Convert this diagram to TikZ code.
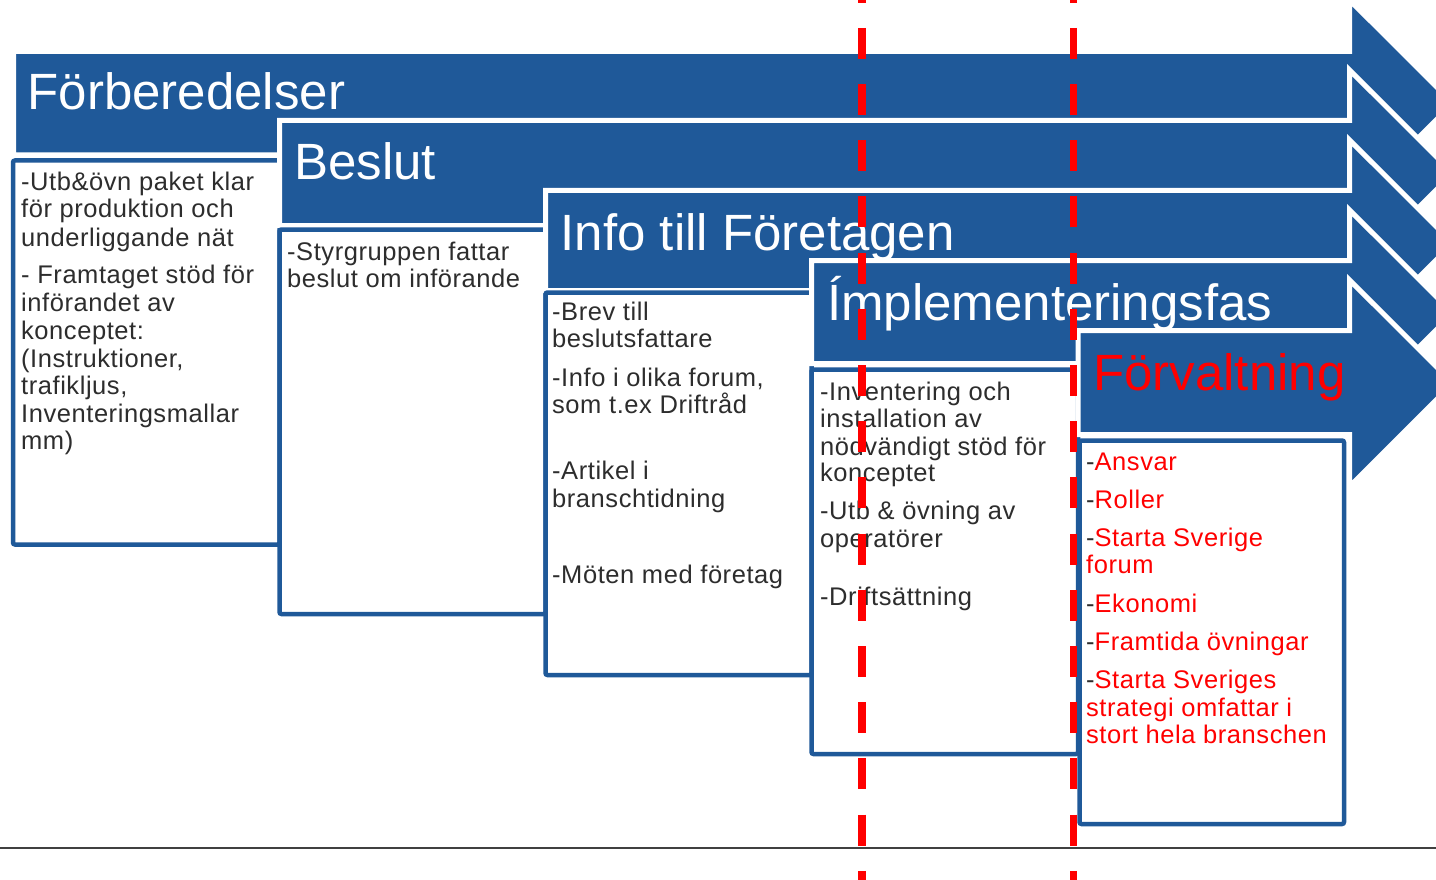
\documentclass[tikz,border=0pt]{standalone}
\usepackage{fontspec}
\setmainfont{Liberation Sans}
\newfontfamily\bodyfont[LetterSpace=2.2]{Liberation Sans}
\definecolor{bandblue}{RGB}{31,89,153}
\definecolor{txtgray}{RGB}{45,45,45}
\definecolor{redline}{RGB}{255,0,0}
\definecolor{rulegray}{RGB}{64,64,64}
\tikzset{
  band/.style={fill=bandblue, draw=white, line width=5pt, line join=miter},
  txtbox/.style={fill=white, draw=bandblue, line width=4.5pt, rounded corners=2pt},
  ttl/.style={anchor=base west, inner sep=0pt, text=white, font=\fontsize{51}{60}\selectfont},
  body/.style={anchor=base west, inner sep=0pt, text=txtgray, font=\bodyfont\fontsize{25.5}{28}\selectfont},
  redbody/.style={body, text=red},
  milestone/.style={draw=redline, line width=7.5pt, dash pattern=on 31pt off 25.2pt, dash phase=28.4pt},
}
\newcommand\hy{{\color{txtgray}-}}
\begin{document}
\begin{tikzpicture}[x=1pt,y=-1pt]
\useasboundingbox (0,0) rectangle (1436,880);
\clip (0,0) rectangle (1436,880);
\fill[white] (0,0) rectangle (1436,880);

% arrow 1 + box 1
\draw[band] (13.5,51.5) -- (1349.5,51.5) -- (1349.5,0) -- (1452.9,103.3) -- (1349.5,206.6) -- (1349.5,155) -- (13.5,155) -- cycle;
\draw[txtbox] (13,160.5) rectangle (279.5,544.5);
% arrow 2 + box 2
\draw[band] (279.5,120.5) -- (1349.5,120.5) -- (1349.5,70) -- (1452.9,173.3) -- (1349.5,276.6) -- (1349.5,225.5) -- (279.5,225.5) -- cycle;
\draw[txtbox] (279.5,229.5) rectangle (545.5,614);
% arrow 3 + box 3
\draw[band] (545.5,190.5) -- (1349.5,190.5) -- (1349.5,140) -- (1452.9,243.3) -- (1349.5,346.6) -- (1349.5,290.5) -- (545.5,290.5) -- cycle;
\draw[txtbox] (545.5,292.5) rectangle (811.5,675);
% arrow 4 + box 4
\draw[band] (811.5,260.5) -- (1349.5,260.5) -- (1349.5,210) -- (1452.9,313.3) -- (1349.5,416.6) -- (1349.5,363.5) -- (811.5,363.5) -- cycle;
\draw[txtbox] (811.5,369.5) rectangle (1078,754);
% arrow 5 + box 5
\draw[band] (1078,330.5) -- (1349.5,330.5) -- (1349.5,280) -- (1452.9,383.3) -- (1349.5,486.6) -- (1349.5,434.5) -- (1078,434.5) -- cycle;
\draw[txtbox] (1079.5,440.5) rectangle (1344,824);

% titles
\node[ttl] (t1) at (27.5,110) {Förberedelser};
\node[ttl] (t2) at (294,180) {Beslut};
\node[ttl] (t3) at (560.5,250) {Info till Företagen};
\node[ttl] (t4) at (827,320) {Ímplementeringsfas};
\node[ttl, text=red] (t5) at (1093,390) {Förvaltning};

% box 1 text
\node[body] (a1) at (21,190) {-Utb\&övn paket klar};
\node[body] (a2) at (21,218) {för produktion och};
\node[body] (a3) at (21,246) {underliggande nät};
\node[body] (a4) at (21,283) {- Framtaget stöd för};
\node[body] (a5) at (21,311) {införandet av};
\node[body] (a6) at (21,339) {konceptet:};
\node[body] (a7) at (21,367) {(Instruktioner,};
\node[body] (a8) at (21,394) {trafikljus,};
\node[body] (a9) at (21,422) {Inventeringsmallar};
\node[body] (a10) at (21,449) {mm)};

% box 2 text
\node[body] (b1) at (287,260) {-Styrgruppen fattar};
\node[body] (b2) at (287,287) {beslut om införande};

% box 3 text
\node[body] (c1) at (552,320) {-Brev till};
\node[body] (c2) at (552,347) {beslutsfattare};
\node[body] (c3) at (552,386) {-Info i olika forum,};
\node[body] (c4) at (552,413) {som t.ex Driftråd};
\node[body] (c5) at (552,479) {-Artikel i};
\node[body] (c6) at (552,507) {branschtidning};
\node[body] (c7) at (552,583) {-Möten med företag};

% box 4 text
\node[body] (d1) at (820,400) {-Inventering och};
\node[body] (d2) at (820,427) {installation av};
\node[body] (d3) at (820,455) {nödvändigt stöd för};
\node[body] (d4) at (820,481) {konceptet};
\node[body] (d5) at (820,519) {-Utb \& övning av};
\node[body] (d6) at (820,547) {operatörer};
\node[body] (d7) at (820,605) {-Driftsättning};

% box 5 text
\node[redbody] (e1) at (1086,470) {\hy Ansvar};
\node[redbody] (e2) at (1086,508) {\hy Roller};
\node[redbody] (e3) at (1086,546) {\hy Starta Sverige};
\node[redbody] (e4) at (1086,573) {forum};
\node[redbody] (e5) at (1086,612) {\hy Ekonomi};
\node[redbody] (e6) at (1086,650) {\hy Framtida övningar};
\node[redbody] (e7) at (1086,688) {\hy Starta Sveriges};
\node[redbody] (e8) at (1086,716) {strategi omfattar i};
\node[redbody] (e9) at (1086,743) {stort hela branschen};

% bottom rule
\coordinate (r0) at (0,848);
\coordinate (r1) at (1436,848);
\draw[rulegray, line width=1.5pt] (r0) -- (r1);

% milestone dashed lines
\coordinate (m1t) at (862,0);
\coordinate (m1b) at (862,880);
\coordinate (m2t) at (1073.5,0);
\coordinate (m2b) at (1073.5,880);
\draw[milestone] (m1t) -- (m1b);
\draw[milestone] (m2t) -- (m2b);
\end{tikzpicture}
\end{document}
